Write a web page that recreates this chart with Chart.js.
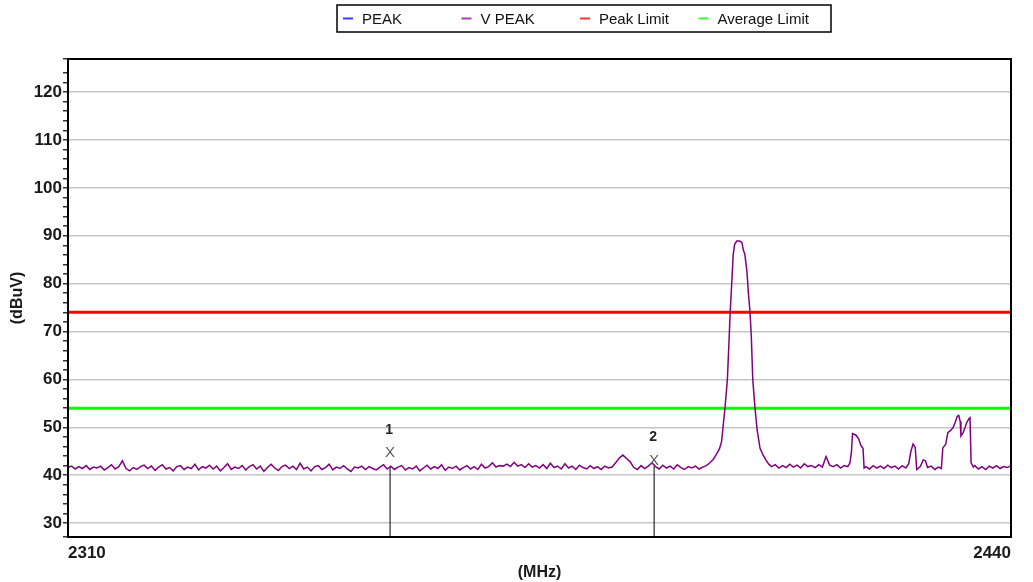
<!DOCTYPE html>
<html>
<head>
<meta charset="utf-8">
<script src="https://cdn.jsdelivr.net/npm/chart.js@4.4.1/dist/chart.umd.min.js"></script>
<style>
  html, body { margin: 0; padding: 0; background: #fff; }
  #wrap { width: 1033px; height: 582px; position: relative; }
</style>
</head>
<body>
<div id="wrap"><canvas id="emcChart"></canvas></div>
<script>
// axis ranges (MHz / dBuV)
const freqRange = [2310, 2440];
const freqTicks = [2310, 2440];
const levelRange = [27.1, 126.9];

// limit lines
const peakLimit = 74;
const avgLimit = 54;

// PEAK trace - not shown in this scan, only in the legend
const peak = [];

// V PEAK trace, [MHz, dBuV]
const vPeak = [
  [2310, 41.6], [2310.5, 41.9], [2311, 41.3], [2311.5, 41.8], [2312, 41.4], [2312.5, 42.0], [2313, 41.2], [2313.5, 41.7], [2314, 41.5], [2314.5, 41.9],
  [2315, 41.1], [2315.5, 41.6], [2316, 42.2], [2316.5, 41.3], [2317, 41.8], [2317.5, 43.0], [2318, 41.4], [2318.5, 40.9], [2319, 41.6], [2319.5, 41.2],
  [2320, 41.8], [2320.5, 42.1], [2321, 41.4], [2321.5, 41.9], [2322, 41.0], [2322.5, 41.7], [2323, 42.2], [2323.5, 41.3], [2324, 41.6], [2324.5, 40.9],
  [2325, 41.8], [2325.5, 42.0], [2326, 41.2], [2326.5, 41.7], [2327, 41.4], [2327.5, 42.3], [2328, 41.1], [2328.5, 41.8], [2329, 41.5], [2329.5, 42.1],
  [2330, 41.3], [2330.5, 41.9], [2331, 40.9], [2331.5, 41.6], [2332, 42.4], [2332.5, 41.2], [2333, 41.7], [2333.5, 41.4], [2334, 42.0], [2334.5, 41.1],
  [2335, 41.8], [2335.5, 42.2], [2336, 41.3], [2336.5, 41.9], [2337, 40.8], [2337.5, 41.6], [2338, 42.3], [2338.5, 41.5], [2339, 41.0], [2339.5, 41.8],
  [2340, 42.1], [2340.5, 41.4], [2341, 41.9], [2341.5, 41.2], [2342, 42.5], [2342.5, 41.3], [2343, 41.7], [2343.5, 40.9], [2344, 41.8], [2344.5, 42.0],
  [2345, 41.2], [2345.5, 41.6], [2346, 42.3], [2346.5, 41.1], [2347, 41.7], [2347.5, 41.4], [2348, 42.0], [2348.5, 41.3], [2349, 40.8], [2349.5, 41.7],
  [2350, 41.5], [2350.5, 41.9], [2351, 41.2], [2351.5, 41.8], [2352, 41.4], [2352.5, 41.1], [2353, 41.7], [2353.5, 42.2], [2354, 41.3], [2354.5, 41.9],
  [2355, 41.2], [2355.5, 41.7], [2356, 42.0], [2356.5, 41.1], [2357, 41.6], [2357.5, 41.3], [2358, 41.9], [2358.5, 40.9], [2359, 41.5], [2359.5, 42.1],
  [2360, 41.3], [2360.5, 41.8], [2361, 41.4], [2361.5, 42.2], [2362, 41.0], [2362.5, 41.7], [2363, 41.4], [2363.5, 41.9], [2364, 41.1], [2364.5, 41.6],
  [2365, 42.0], [2365.5, 41.3], [2366, 41.8], [2366.5, 41.2], [2367, 42.3], [2367.5, 41.5], [2368, 41.8], [2368.5, 42.6], [2369, 41.7], [2369.5, 42.0],
  [2370, 41.9], [2370.5, 42.3], [2371, 41.8], [2371.5, 42.7], [2372, 41.9], [2372.5, 42.2], [2373, 41.6], [2373.5, 42.4], [2374, 41.7], [2374.5, 42.0],
  [2375, 41.5], [2375.5, 42.2], [2376, 41.4], [2376.5, 42.5], [2377, 41.6], [2377.5, 41.9], [2378, 41.3], [2378.5, 42.4], [2379, 41.5], [2379.5, 41.9],
  [2380, 41.2], [2380.5, 42.1], [2381, 41.6], [2381.5, 41.3], [2382, 42.0], [2382.5, 41.4], [2383, 41.8], [2383.5, 41.2], [2384, 41.9], [2384.5, 41.5],
  [2385, 41.7], [2385.5, 42.6], [2386, 43.6], [2386.5, 44.2], [2387, 43.5], [2387.5, 42.8], [2388, 41.6], [2388.5, 41.2], [2389, 42.0], [2389.5, 41.4],
  [2390, 41.9], [2390.5, 42.6], [2391, 41.8], [2391.5, 41.3], [2392, 42.1], [2392.5, 41.5], [2393, 41.9], [2393.5, 41.3], [2394, 42.2], [2394.5, 41.6],
  [2395, 41.2], [2395.5, 41.8], [2396, 41.5], [2396.5, 41.9], [2397, 41.3], [2397.5, 41.7], [2398, 42.0], [2398.5, 42.6],
  // carrier
  [2399.0, 43.4], [2399.4, 44.4], [2399.8, 45.5], [2400.1, 47.0], [2400.3, 50.0], [2400.6, 54.5], [2400.9, 60.0], [2401.1, 67.0], [2401.3, 74.5], [2401.5, 80.0],
  [2401.7, 86.0], [2401.9, 88.2], [2402.2, 88.9], [2402.6, 88.9], [2402.9, 88.6], [2403.1, 87.0], [2403.3, 86.2], [2403.6, 82.5], [2403.8, 78.0], [2404.0, 74.5],
  [2404.2, 69.0], [2404.4, 60.0], [2404.7, 54.2], [2405.0, 49.5], [2405.4, 45.6], [2405.8, 44.3], [2406.2, 43.2], [2406.6, 42.3],
  [2407, 41.8], [2407.5, 42.2], [2408, 41.5], [2408.5, 42.0], [2409, 41.6], [2409.5, 42.3], [2410, 41.7], [2410.5, 42.1], [2411, 41.5], [2411.5, 42.4],
  [2412, 41.8], [2412.5, 42.0], [2413, 41.6], [2413.5, 42.2], [2414, 41.7], [2414.5, 43.9], [2415, 42.1], [2415.5, 41.8], [2416, 42.2], [2416.5, 41.5],
  [2417, 42.0], [2417.5, 41.8], [2417.8, 42.6], [2418.0, 44.8], [2418.15, 48.7], [2418.6, 48.4], [2419.0, 47.6], [2419.3, 46.2], [2419.6, 45.6], [2419.75, 41.5],
  [2420, 41.8], [2420.5, 41.3], [2421, 42.0], [2421.5, 41.5], [2422, 41.9], [2422.5, 41.4], [2423, 42.1], [2423.5, 41.6], [2424, 41.9], [2424.5, 41.3],
  [2425, 42.0], [2425.5, 41.5], [2425.9, 42.4], [2426.2, 45.0], [2426.5, 46.5], [2426.8, 45.8], [2427.0, 41.2], [2427.5, 41.8], [2427.9, 43.2], [2428.2, 43.0],
  [2428.5, 41.6], [2429, 41.9], [2429.5, 41.2], [2430, 41.7], [2430.4, 41.4], [2430.6, 45.7], [2431.0, 46.5], [2431.3, 48.9], [2431.7, 49.4], [2432.0, 49.9],
  [2432.3, 51.0], [2432.6, 52.3], [2432.8, 52.5], [2433.0, 51.2], [2433.1, 48.2], [2433.4, 48.9], [2433.7, 50.1], [2433.9, 51.0], [2434.2, 51.8], [2434.35, 52.0],
  [2434.5, 42.6], [2434.8, 41.7], [2435, 42.0], [2435.5, 41.3], [2436, 41.8], [2436.5, 41.2], [2437, 41.9], [2437.5, 41.5], [2438, 42.0], [2438.5, 41.4],
  [2439, 41.8], [2439.5, 41.6], [2440, 42.0]
];

// markers: frequency, trace level, level where the "X" sits, label
const markerFreqs = [2354.4, 2390.8];
const markerLevels = [41.8, 41.9];
const markerXLevels = [44.6, 43.1];
const markerLabels = ['1', '2'];

// legend entries
const seriesNames = ['PEAK', 'V PEAK', 'Peak Limit', 'Average Limit'];
const seriesColors = ['#3a3aff', '#a040a0', '#ff3535', '#35ff35'];

const fontFamily = '"Liberation Sans", Arial, sans-serif';

// boxed legend like the analyzer software draws
const boxLegend = {
    id: 'boxLegend',
    afterDraw(chart) {
        const ctx = chart.ctx;
        const left = 337, top = 5, w = 494, h = 27;
        ctx.save();
        ctx.fillStyle = '#fff';
        ctx.fillRect(left, top, w, h);
        ctx.strokeStyle = '#000';
        ctx.lineWidth = 1.5;
        ctx.strokeRect(left, top, w, h);
        ctx.font = '15px ' + fontFamily;
        ctx.textBaseline = 'middle';
        seriesNames.forEach((name, i) => {
            const x = left + 6 + i * 118.5;
            const y = top + h / 2;
            ctx.strokeStyle = seriesColors[i];
            ctx.lineWidth = 2;
            ctx.beginPath();
            ctx.moveTo(x, y);
            ctx.lineTo(x + 10, y);
            ctx.stroke();
            ctx.fillStyle = '#111';
            ctx.fillText(name, x + 19, y + 1);
        });
        ctx.restore();
    }
};

// black frame round the plot area
const plotFrame = {
    id: 'plotFrame',
    afterDatasetsDraw(chart) {
        const { ctx, chartArea: a } = chart;
        ctx.save();
        ctx.strokeStyle = '#000';
        ctx.lineWidth = 2;
        ctx.strokeRect(a.left, a.top, a.right - a.left, a.bottom - a.top);
        ctx.restore();
    }
};

// "X" and number above each marker
const markerText = {
    id: 'markerText',
    afterDatasetsDraw(chart) {
        const { ctx, scales } = chart;
        ctx.save();
        ctx.textAlign = 'center';
        ctx.textBaseline = 'middle';
        markerFreqs.forEach((f, i) => {
            const px = scales.x.getPixelForValue(f);
            const py = scales.y.getPixelForValue(markerXLevels[i]);
            ctx.fillStyle = '#5a5a5a';
            ctx.font = '15px ' + fontFamily;
            ctx.fillText('X', px, py);
            ctx.fillStyle = '#222';
            ctx.font = 'bold 14px ' + fontFamily;
            ctx.fillText(markerLabels[i], px - 1, py - 23);
        });
        ctx.restore();
    }
};

const markerSets = markerFreqs.map((f, i) => ({
    label: 'marker ' + markerLabels[i],
    data: [[f, levelRange[0]], [f, markerLevels[i]]],
    borderColor: '#000',
    borderWidth: 1,
    pointRadius: 0,
    order: 3
}));

const ctx = document.getElementById('emcChart').getContext('2d');
const chart = new Chart(ctx, {
    type: 'line',
    data: {
        datasets: [
            { label: 'PEAK', data: peak, borderColor: seriesColors[0], borderWidth: 1.5, pointRadius: 0, order: 0 },
            { label: 'V PEAK', data: vPeak, borderColor: '#800080', borderWidth: 1.5, pointRadius: 0, order: 0 },
            { label: 'Peak Limit', data: [[freqRange[0], peakLimit], [freqRange[1], peakLimit]], borderColor: '#ff0000', borderWidth: 3, pointRadius: 0, order: 1 },
            { label: 'Average Limit', data: [[freqRange[0], avgLimit], [freqRange[1], avgLimit]], borderColor: '#00ff00', borderWidth: 3, pointRadius: 0, order: 1 },
            ...markerSets
        ]
    },
    options: {
        responsive: true,
        maintainAspectRatio: false,
        animation: false,
        layout: { padding: { top: 59, right: 22, left: 0, bottom: 0 } },
        plugins: {
            legend: { display: false },
            tooltip: { enabled: false }
        },
        scales: {
            x: {
                type: 'linear',
                min: freqRange[0],
                max: freqRange[1],
                afterBuildTicks: scale => { scale.ticks = freqTicks.map(v => ({ value: v })); },
                afterFit: scale => { scale.height = 45; },
                grid: { display: false, drawTicks: false },
                border: { display: true, color: '#000', width: 2 },
                ticks: {
                    align: 'inner',
                    padding: 6,
                    maxRotation: 0,
                    color: '#1a1a1a',
                    font: { family: fontFamily, size: 17, weight: 'bold' },
                    callback: v => String(v)
                },
                title: {
                    display: true,
                    text: '(MHz)',
                    color: '#1a1a1a',
                    padding: { top: 0, bottom: 0 },
                    font: { family: fontFamily, size: 16, weight: 'bold' }
                }
            },
            y: {
                type: 'linear',
                min: levelRange[0],
                max: levelRange[1],
                afterFit: scale => { scale.width = 68; },
                grid: {
                    color: c => (c.tick && Math.abs(c.tick.value % 10) < 1e-6) ? '#c6c6c6' : 'rgba(0,0,0,0)',
                    lineWidth: 1.5,
                    tickColor: '#333',
                    tickLength: 5,
                    drawTicks: true
                },
                border: { display: true, color: '#000', width: 2 },
                ticks: {
                    stepSize: 2,
                    autoSkip: false,
                    padding: 1,
                    color: '#1a1a1a',
                    font: { family: fontFamily, size: 17, weight: 'bold' },
                    callback: v => (Math.abs(v % 10) < 1e-6 ? v : '')
                },
                title: {
                    display: true,
                    text: '(dBuV)',
                    color: '#1a1a1a',
                    padding: { top: 8, bottom: 0 },
                    font: { family: fontFamily, size: 16, weight: 'bold' }
                }
            }
        }
    },
    plugins: [boxLegend, plotFrame, markerText]
});
</script>
</body>
</html>
